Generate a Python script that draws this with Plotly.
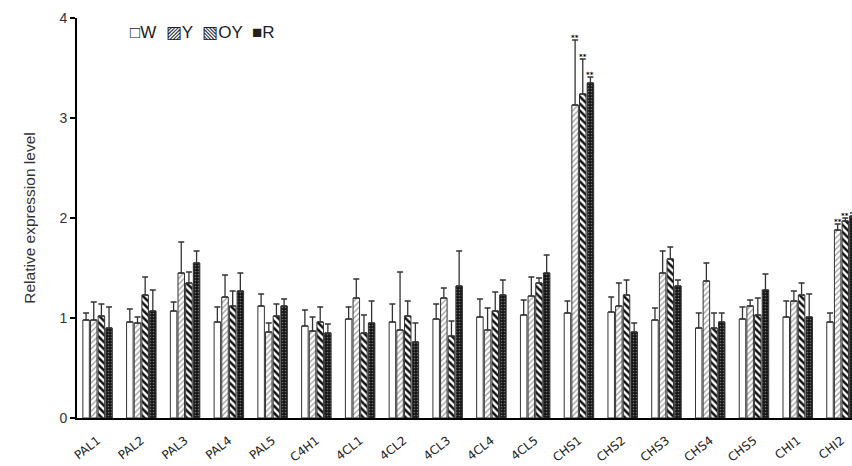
import plotly.graph_objects as go

# Gene names along the x axis
genes = ["PAL1", "PAL2", "PAL3", "PAL4", "PAL5", "C4H1", "4CL1", "4CL2", "4CL3",
         "4CL4", "4CL5", "CHS1", "CHS2", "CHS3", "CHS4", "CHS5", "CHI1", "CHI2"]

# Relative expression level (mean) and standard deviation per sample group
w_vals = [0.98, 0.96, 1.07, 0.96, 1.12, 0.92, 0.99, 0.96, 0.99, 1.01, 1.03, 1.05, 1.06, 0.98, 0.90, 0.99, 1.01, 0.96]
w_err = [0.07, 0.13, 0.09, 0.15, 0.12, 0.16, 0.12, 0.18, 0.15, 0.18, 0.15, 0.12, 0.15, 0.12, 0.15, 0.12, 0.16, 0.09]

y_vals = [0.98, 0.95, 1.45, 1.21, 0.86, 0.87, 1.20, 0.88, 1.20, 0.88, 1.22, 3.13, 1.12, 1.45, 1.37, 1.12, 1.17, 1.88]
y_err = [0.18, 0.06, 0.31, 0.22, 0.09, 0.14, 0.19, 0.58, 0.10, 0.22, 0.19, 0.65, 0.23, 0.22, 0.18, 0.06, 0.10, 0.06]

oy_vals = [1.02, 1.23, 1.35, 1.12, 1.02, 0.96, 0.85, 1.02, 0.82, 1.07, 1.35, 3.24, 1.23, 1.59, 0.90, 1.03, 1.23, 1.97]
oy_err = [0.12, 0.18, 0.11, 0.15, 0.12, 0.15, 0.18, 0.15, 0.15, 0.19, 0.05, 0.35, 0.15, 0.12, 0.15, 0.17, 0.12, 0.03]

r_vals = [0.90, 1.07, 1.55, 1.27, 1.12, 0.85, 0.95, 0.76, 1.32, 1.23, 1.45, 3.35, 0.86, 1.32, 0.96, 1.28, 1.01, 2.02]
r_err = [0.21, 0.21, 0.12, 0.18, 0.07, 0.09, 0.22, 0.19, 0.35, 0.15, 0.18, 0.06, 0.09, 0.06, 0.09, 0.16, 0.23, 0.03]

# Genes whose Y, OY and R values are marked as highly significant
sig_genes = ["CHS1", "CHI2"]

series = [
    ("W", w_vals, w_err, dict(color="white", pattern=dict(shape=""))),
    ("Y", y_vals, y_err, dict(color="white",
                               pattern=dict(shape="/", fgcolor="#9a9a9a", bgcolor="white",
                                            size=4, solidity=0.3, fillmode="replace"))),
    ("OY", oy_vals, oy_err, dict(color="white",
                                 pattern=dict(shape="\\", fgcolor="#111111", bgcolor="white",
                                              size=5, solidity=0.5, fillmode="replace"))),
    ("R", r_vals, r_err, dict(color="#151515",
                              pattern=dict(shape=".", fgcolor="#6e6e6e", bgcolor="#151515",
                                           size=3, solidity=0.25, fillmode="replace"))),
]

fig = go.Figure()
for name, vals, errs, mk in series:
    mk = dict(mk)
    mk["line"] = dict(color="#333333", width=1)
    fig.add_trace(go.Bar(
        name=name, x=genes, y=vals, marker=mk, showlegend=False,
        error_y=dict(type="data", array=errs, arrayminus=[0] * len(errs), symmetric=False,
                     color="#333333", thickness=1.3, width=3),
    ))

bargap = 0.3
n_series = len(series)
slot = (1 - bargap) / n_series

# "**" markers above the error bars of significant genes
for gi, g in enumerate(genes):
    if g not in sig_genes:
        continue
    for k in range(1, n_series):
        name, vals, errs, _ = series[k]
        xpos = gi - (1 - bargap) / 2 + slot * (k + 0.5)
        fig.add_annotation(x=xpos, y=vals[gi] + errs[gi], xref="x", yref="y",
                           text="<b>**</b>", showarrow=False, yanchor="bottom", yshift=-3,
                           borderpad=0,
                           font=dict(family="DejaVu Sans", size=7, color="black"))

# Legend drawn as a single text line
fig.add_annotation(
    x=(128 - 77) / (852 - 77), y=(418 - 33) / 400, xref="paper", yref="paper",
    xanchor="left", yanchor="middle", showarrow=False,
    text="□W  ▨Y  ▧OY  ■R",
    font=dict(family="Liberation Sans, Arial", size=17, color="#222"),
)

fig.update_layout(
    width=852, height=466,
    margin=dict(l=77, r=0, t=18, b=48),
    paper_bgcolor="white", plot_bgcolor="white",
    barmode="group", bargap=bargap, bargroupgap=0.15,
    font=dict(family="Liberation Sans, Arial", color="#222"),
)
fig.update_xaxes(
    type="category", range=[-0.47, 17.24], automargin=False,
    showline=True, linecolor="black", linewidth=2,
    ticks="", tickangle=-38, ticklabelstandoff=9,
    tickfont=dict(family="DejaVu Sans", size=12, color="#222"),
    showgrid=False, zeroline=False,
)
fig.update_yaxes(
    range=[0, 4], tickvals=[0, 1, 2, 3, 4], automargin=False,
    showline=True, linecolor="black", linewidth=2,
    ticks="outside", ticklen=5, tickwidth=1.5, tickcolor="black",
    tickfont=dict(family="Liberation Sans, Arial", size=14, color="#333"),
    title=dict(text="Relative expression level", standoff=20,
               font=dict(family="Liberation Sans, Arial", size=15.5, color="#333")),
    showgrid=False, zeroline=False,
)

fig.write_html("out.html")
